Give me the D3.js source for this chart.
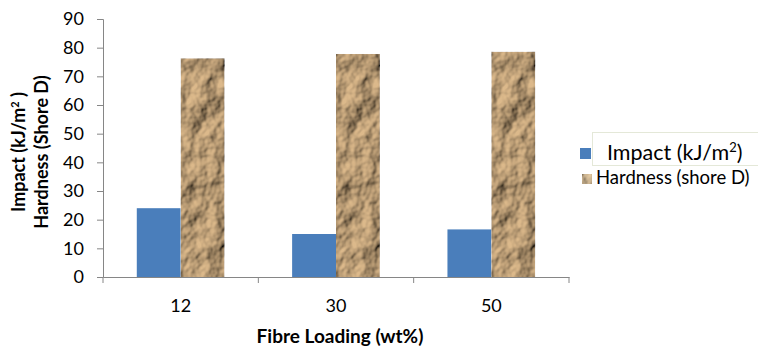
<!DOCTYPE html>
<html>
<head>
<meta charset="utf-8">
<script src="https://cdn.jsdelivr.net/npm/d3@7"></script>
<style>
  html, body { margin: 0; padding: 0; background: #fff; }
  svg { display: block; font-family: Lato, "Open Sans", sans-serif; }
</style>
</head>
<body>
<svg id="chart" width="758" height="348"></svg>
<script>
// Fibre loading levels and measured properties
const categories = ["12", "30", "50"];
const impactValues = [24, 15, 16.6];
const hardnessValues = [76.3, 77.8, 78.6];
const yTicks = [0, 10, 20, 30, 40, 50, 60, 70, 80, 90];
const seriesNames = ["Impact (kJ/m²)", "Hardness (shore D)"];

const svg = d3.select("#chart");
const margin = { left: 103, right: 189, top: 19, bottom: 71 };
const W = 758, H = 348;

const x = d3.scaleBand().domain(categories)
  .range([margin.left, W - margin.right]).paddingInner(0).paddingOuter(0);
const x1 = d3.scaleBand().domain(["impact", "hardness"])
  .range([0, x.bandwidth()]).paddingOuter(0.77).paddingInner(0);
const y = d3.scaleLinear().domain([0, 90]).range([H - margin.bottom, margin.top]);

// Crumpled paper texture for the hardness bars
const defs = svg.append("defs");
const f = defs.append("filter").attr("id", "paper")
  .attr("filterUnits", "userSpaceOnUse")
  .attr("x", 0).attr("y", 0).attr("width", W).attr("height", H);
f.append("feTurbulence").attr("type", "fractalNoise")
  .attr("baseFrequency", "0.032 0.032").attr("numOctaves", 4).attr("seed", 5)
  .attr("result", "noise");
const light = f.append("feDiffuseLighting").attr("in", "noise")
  .attr("lighting-color", "#ffffff").attr("surfaceScale", 6)
  .attr("diffuseConstant", 1.2).attr("result", "light");
light.append("feDistantLight").attr("azimuth", 210).attr("elevation", 32);
f.append("feBlend").attr("in", "light").attr("in2", "SourceGraphic")
  .attr("mode", "multiply").attr("result", "shade");
f.append("feComposite").attr("in", "shade").attr("in2", "SourceGraphic")
  .attr("operator", "in");

const axisColor = "#868686";
const tickFont = 18;

// Y axis
const yAxis = svg.append("g").attr("transform", `translate(${margin.left},0)`)
  .call(d3.axisLeft(y).tickValues(yTicks).tickSize(6).tickPadding(13));
yAxis.select(".domain").attr("stroke", axisColor);
yAxis.selectAll(".tick line").attr("stroke", axisColor);
yAxis.selectAll(".tick text").attr("fill", "#000").attr("font-size", tickFont)
  .attr("font-family", "Lato, sans-serif");

// X axis
const xAxis = svg.append("g").attr("transform", `translate(0,${y(0)})`)
  .call(d3.axisBottom(x).tickSize(0).tickPadding(22));
xAxis.select(".domain").attr("stroke", axisColor);
xAxis.selectAll(".tick text").attr("fill", "#000").attr("font-size", tickFont)
  .attr("font-family", "Lato, sans-serif");
// boundary ticks between categories
const bounds = [...categories.map(c => x(c)), x(categories[categories.length - 1]) + x.bandwidth()];
xAxis.selectAll(".bound").data(bounds).join("line").attr("class", "bound")
  .attr("x1", d => d).attr("x2", d => d).attr("y1", 0).attr("y2", 6)
  .attr("stroke", axisColor);

// Bars
const groups = svg.append("g").selectAll("g").data(categories).join("g")
  .attr("transform", d => `translate(${x(d)},0)`);
groups.append("rect")
  .attr("x", x1("impact")).attr("width", x1.bandwidth())
  .attr("y", (d, i) => y(impactValues[i]))
  .attr("height", (d, i) => y(0) - y(impactValues[i]))
  .attr("fill", "#4a7ebb");
groups.append("rect")
  .attr("x", x1("hardness")).attr("width", x1.bandwidth())
  .attr("y", (d, i) => y(hardnessValues[i]))
  .attr("height", (d, i) => y(0) - y(hardnessValues[i]))
  .attr("fill", "#dcb98b")
  .attr("filter", "url(#paper)");

// Axis titles
const yTitle = svg.append("text")
  .attr("transform", `translate(34,${y(45) + 4}) rotate(-90)`)
  .attr("text-anchor", "middle").attr("font-weight", "bold").attr("font-size", 18);
yTitle.append("tspan").attr("x", 0).attr("dy", "-0.5em").text("Impact (kJ/m")
  .append("tspan").attr("baseline-shift", "super").attr("font-size", 11).text("2");
yTitle.append("tspan").text(" )");
yTitle.append("tspan").attr("x", 0).attr("dy", "1.25em").text("Hardness (Shore D)");

svg.append("text").attr("x", (margin.left + W - margin.right) / 2 + 4).attr("y", 343)
  .attr("text-anchor", "middle").attr("font-weight", "bold").attr("font-size", 19)
  .text("Fibre Loading (wt%)");

// Legend
const lg = svg.append("g");
lg.append("rect").attr("x", 592.5).attr("y", 132.5).attr("width", 170).attr("height", 33)
  .attr("fill", "none").attr("stroke", "#e4e8d8").attr("stroke-width", 1);
lg.append("rect").attr("x", 580).attr("y", 148).attr("width", 11).attr("height", 11)
  .attr("fill", "#4a7ebb");
const t1 = lg.append("text").attr("x", 607).attr("y", 160).attr("font-size", 21.5)
  .text("Impact (kJ/m");
t1.append("tspan").attr("baseline-shift", "super").attr("font-size", 13).text("2");
t1.append("tspan").text(")");
lg.append("rect").attr("x", 582).attr("y", 174).attr("width", 10).attr("height", 10)
  .attr("fill", "#e6cba3").attr("filter", "url(#paper)");
lg.append("text").attr("x", 596).attr("y", 184).attr("font-size", 18.5)
  .text(seriesNames[1]);
</script>
</body>
</html>
